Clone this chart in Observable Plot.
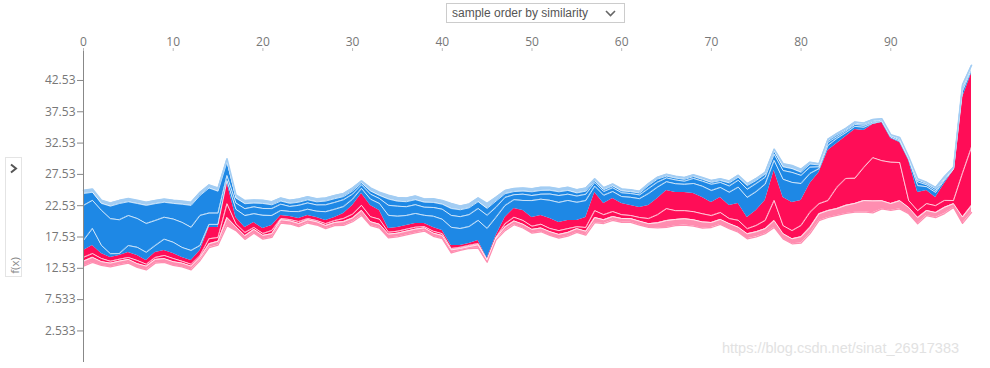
<!DOCTYPE html>
<html><head><meta charset="utf-8">
<script src="https://cdn.jsdelivr.net/npm/d3@7"></script>
<script src="https://cdn.jsdelivr.net/npm/@observablehq/plot@0.6"></script>
<style>
body{margin:0;background:#fff;}
#wrap{position:relative;width:990px;height:368px;overflow:hidden;}
#sel{position:absolute;left:446px;top:3px;width:179px;height:20px;border:1px solid #ccc;box-sizing:border-box;font:12px "Liberation Sans",Arial,sans-serif;color:#555;padding:2px 0 0 5px;background:#fff;}
#sel svg{position:absolute;right:8px;top:6px;}
#fxbox{position:absolute;left:5px;top:157px;width:17px;height:120px;border:1px solid #e4e4e4;box-sizing:border-box;background:#fff;}
#fxbox .chev{position:absolute;left:3px;top:5px;}
#fxbox .lab{position:absolute;left:-9px;top:100px;width:34px;text-align:center;transform:rotate(-90deg);font:11.5px "Open Sans",sans-serif;color:#888;}
#wm{position:absolute;left:722px;top:340px;font:14.5px "Liberation Sans",Arial,sans-serif;color:#e2e2e2;white-space:nowrap;}
</style></head>
<body><div id="wrap">
<div id="chart"></div>
<div id="sel">sample order by similarity<svg width="11" height="7" viewBox="0 0 11 7"><polyline points="1,1 5.5,5.5 10,1" fill="none" stroke="#666" stroke-width="1.6"/></svg></div>
<div id="fxbox"><svg class="chev" width="10" height="11" viewBox="0 0 10 11"><polyline points="2,1.5 7,5.5 2,9.5" fill="none" stroke="#555" stroke-width="2"/></svg><div class="lab">f(x)</div></div>
<div id="wm">https://blog.csdn.net/sinat_26917383</div>
</div>
<script>
const sampleIndex = Array.from({length: 100}, (_, i) => i);
const xTicks = [0, 10, 20, 30, 40, 50, 60, 70, 80, 90];
const yTicks = [2.533, 7.533, 12.533, 17.533, 22.533, 27.533, 32.533, 37.533, 42.533];
const yTickLabels = ["2.533", "7.533", "12.53", "17.53", "22.53", "27.53", "32.53", "37.53", "42.53"];

// model output f(x) for each sample (boundary between red and blue)
const fx = [15.38,16.18,14.90,14.26,14.58,15.06,14.58,13.78,15.06,15.38,
14.90,14.26,13.78,15.38,19.05,19.05,26.24,20.65,19.05,19.85,
18.89,19.37,20.97,20.81,20.49,20.97,20.65,20.17,20.65,21.29,
22.57,24.48,22.57,21.77,18.89,19.05,19.37,19.69,19.69,19.05,
18.57,16.18,16.18,16.50,16.98,14.10,17.78,20.65,22.09,21.77,
20.65,20.97,20.49,19.85,20.17,20.17,20.65,24.64,22.89,23.69,
22.89,22.57,22.25,22.57,23.69,24.96,24.64,24.64,24.48,23.84,
23.05,23.84,22.57,22.89,20.65,21.77,23.37,28.16,23.84,23.05,
23.37,26.08,27.84,31.35,32.47,33.59,34.70,34.55,35.50,35.82,
33.27,32.63,29.75,24.64,24.96,23.84,26.08,28.16,39.82,43.65];

// positive (red) feature effects, stacked downward from f(x)
const red1 = [1.1,1.3,0.8,0.6,0.6,0.8,0.8,0.6,0.8,0.8,
0.8,0.6,0.6,0.8,1.8,1.6,3.4,1.0,0.8,0.8,
0.8,0.8,0.5,0.5,0.5,0.5,0.5,0.5,0.5,0.8,
1.4,1.9,1.8,1.4,0.6,0.6,0.6,0.6,0.5,0.6,
0.5,0.5,0.3,0.3,0.5,0.2,0.3,1.0,1.4,1.6,
1.4,1.4,1.6,1.3,1.3,1.0,1.6,2.9,1.8,2.1,
1.8,1.6,1.6,2.1,2.6,2.9,2.9,2.9,2.9,2.6,
2.1,2.4,2.1,2.7,1.8,2.4,3.2,4.8,4.5,4.5,
4.0,4.6,5.0,8.0,7.0,6.7,7.8,5.9,5.3,6.1,
3.8,3.2,6.4,2.9,2.1,1.3,2.7,4.8,12.1,11.8];
const red2 = [0.6,0.6,0.5,0.3,0.3,0.3,0.5,0.3,0.3,0.5,
0.5,0.3,0.3,0.3,0.8,0.6,2.2,0.5,0.5,0.3,
0.3,0.5,0.2,0.2,0.3,0.2,0.2,0.3,0.3,0.5,
0.6,0.8,0.8,0.8,0.3,0.3,0.3,0.3,0.2,0.3,
0.3,0.2,0.2,0.2,0.2,0.1,0.1,0.5,0.6,0.6,
0.5,0.6,0.5,0.6,0.6,0.3,0.6,1.1,0.8,0.8,
0.6,0.5,0.6,0.8,1.3,1.9,1.4,1.3,1.3,1.3,
1.1,1.1,0.8,1.1,0.8,1.0,1.3,3.2,1.3,1.3,
1.8,2.4,1.6,1.6,3.4,4.3,4.0,5.3,6.9,6.4,
6.6,6.1,1.1,1.1,1.1,1.1,1.1,0.5,7.0,9.3];
const redSmall = [0.8,0.8,0.6,0.6,0.6,0.6,0.6,0.6,0.6,0.6,
0.6,0.6,0.6,0.5,0.6,0.6,1.3,0.6,0.6,0.6,
0.6,0.6,0.5,0.5,0.5,0.5,0.5,0.5,0.5,0.6,
0.6,0.8,0.6,0.6,0.6,0.6,0.6,0.6,0.5,0.5,
0.5,0.5,0.3,0.3,0.5,0.3,0.3,0.6,0.6,0.6,
0.6,0.6,0.6,0.6,0.6,0.6,0.6,0.8,0.6,0.6,
0.6,0.6,0.6,0.6,0.8,1.1,1.0,1.0,1.0,1.0,
0.8,0.8,0.8,0.8,0.8,0.8,0.8,1.1,0.8,0.8,
1.0,1.0,1.1,1.1,1.1,1.3,1.4,1.8,1.9,1.3,
1.1,1.3,1.0,1.0,0.8,0.8,1.0,0.6,1.0,1.1];

// negative (blue) feature effects, stacked upward from f(x)
const blue1 = [1.6,2.7,1.3,0.6,0.3,1.1,1.3,1.3,1.1,1.8,
1.8,1.6,1.6,0.8,0.5,0.5,0.3,1.3,1.9,1.4,
2.1,1.6,0.8,0.8,1.1,1.0,1.0,1.4,1.3,1.1,
1.0,0.8,1.0,1.1,2.1,1.8,1.6,1.6,1.3,1.8,
1.8,2.9,2.7,2.7,3.2,4.8,2.9,1.9,1.4,1.6,
2.7,2.6,2.9,3.2,3.2,2.9,2.7,1.0,1.3,1.1,
1.1,1.3,1.4,1.9,1.8,1.4,1.4,1.3,1.6,1.8,
1.9,1.6,2.1,2.6,3.2,3.0,2.6,1.6,2.9,3.2,
2.7,1.6,0.6,0.8,0.8,0.6,0.5,0.5,0.2,0.2,
0.2,0.2,0.2,1.1,0.6,0.8,0.5,0.2,1.0,0.6];
const blue2 = [5.6,4.5,5.6,5.6,5.4,4.8,4.6,4.6,4.0,3.5,
3.7,4.0,3.7,4.8,1.8,1.8,0.8,1.0,1.1,1.1,
1.1,1.1,1.0,0.8,1.0,1.0,1.0,1.1,1.1,1.1,
0.8,0.6,0.8,0.8,1.6,1.6,1.4,1.4,1.3,1.4,
1.6,1.9,1.9,1.9,1.9,2.1,1.6,1.3,0.8,1.0,
0.8,0.8,1.0,1.1,1.0,1.0,1.0,0.6,0.6,0.6,
0.6,0.6,0.6,0.8,0.8,0.6,0.6,0.5,0.8,0.8,
1.0,0.8,1.0,1.1,1.3,1.3,1.1,1.0,1.4,1.6,
1.3,1.0,0.3,0.5,0.3,0.3,0.3,0.3,0.2,0.2,
0.2,0.2,0.2,0.6,0.3,0.3,0.2,0.1,0.5,0.3];
const blue3 = [1.9,1.3,1.1,2.0,2.6,2.2,2.4,2.9,2.7,2.4,
2.5,2.9,3.5,3.2,4.0,3.5,2.2,0.8,0.8,0.6,
0.8,0.6,0.5,0.5,0.5,0.5,0.5,0.6,0.6,0.5,
0.5,0.3,0.5,0.5,1.0,0.8,0.8,0.8,0.8,0.8,
0.8,1.1,1.1,1.1,1.1,1.1,1.0,0.6,0.5,0.5,
0.6,0.6,0.6,0.6,0.6,0.5,0.5,0.3,0.3,0.3,
0.3,0.3,0.3,0.5,0.5,0.3,0.3,0.3,0.3,0.3,
0.3,0.3,0.5,0.5,0.6,0.5,0.5,0.5,0.6,0.6,
0.5,0.5,0.3,0.3,0.3,0.2,0.2,0.2,0.2,0.1,
0.1,0.2,0.1,0.3,0.2,0.3,0.2,0.1,0.3,0.2];
const blueSmall = [0.5,0.5,0.5,0.5,0.5,0.5,0.5,0.5,0.5,0.5,
0.5,0.5,0.5,0.5,0.5,0.5,0.5,0.5,0.5,0.5,
0.5,0.5,0.5,0.5,0.5,0.5,0.5,0.5,0.5,0.5,
0.5,0.3,0.5,0.5,0.6,0.6,0.6,0.6,0.5,0.6,
0.6,0.8,0.6,0.6,0.6,0.8,0.6,0.5,0.5,0.5,
0.5,0.5,0.5,0.5,0.5,0.5,0.5,0.3,0.3,0.3,
0.3,0.3,0.3,0.3,0.3,0.3,0.3,0.3,0.3,0.3,
0.3,0.3,0.3,0.3,0.3,0.3,0.3,0.3,0.5,0.5,
0.5,0.3,0.2,0.2,0.2,0.2,0.2,0.2,0.2,0.1,
0.1,0.2,0.1,0.2,0.2,0.2,0.2,0.1,0.2,0.2];

const rows = sampleIndex.map(i => {
  const r1 = fx[i] - red1[i], r2 = r1 - red2[i], lo = r2 - redSmall[i];
  const b1 = fx[i] + blue1[i], b2 = b1 + blue2[i], b3 = b2 + blue3[i], hi = b3 + blueSmall[i];
  return {i, fx: fx[i], r1, r2, lo, b1, b2, b3, hi};
});

const RED = "#ff0d57", BLUE = "#1e88e5", PINK = "#ff8db0", LBLUE = "#a3cdf3";
const white = y => Plot.lineY(rows, {x: "i", y, stroke: "#fff", strokeWidth: 0.9, strokeOpacity: 0.85});

const chart = Plot.plot({
  width: 990, height: 368,
  marginLeft: 83, marginRight: 19, marginTop: 50, marginBottom: 6,
  style: {fontFamily: "'Open Sans', sans-serif", fontSize: "12px", color: "#777", background: "transparent"},
  x: {domain: [0, 99]},
  y: {domain: [-2.51, 47.32]},
  marks: [
    Plot.areaY(rows, {x: "i", y1: "r1", y2: "fx", fill: RED}),
    Plot.areaY(rows, {x: "i", y1: "r2", y2: "r1", fill: RED}),
    Plot.areaY(rows, {x: "i", y1: "lo", y2: "r2", fill: PINK}),
    Plot.areaY(rows, {x: "i", y1: "fx", y2: "b1", fill: BLUE}),
    Plot.areaY(rows, {x: "i", y1: "b1", y2: "b2", fill: BLUE}),
    Plot.areaY(rows, {x: "i", y1: "b2", y2: "b3", fill: BLUE}),
    Plot.areaY(rows, {x: "i", y1: "b3", y2: "hi", fill: LBLUE}),
    white("r1"), white("r2"), white("b1"), white("b2"), white("b3"),
    Plot.lineY(rows, {x: "i", y: "lo", stroke: PINK, strokeWidth: 1.3}),
    Plot.lineY(rows, {x: "i", y: "hi", stroke: LBLUE, strokeWidth: 1.6}),
    Plot.ruleX([0], {stroke: "#888", strokeWidth: 1}),
    Plot.axisX({anchor: "top", ticks: xTicks, tickSize: 3, tickPadding: 2, label: null, stroke: "#bbb", fill: "#777"}),
    Plot.axisY({ticks: yTicks, tickFormat: d => yTickLabels[yTicks.indexOf(d)], tickSize: 6, tickPadding: 2, label: null, stroke: "#888", fill: "#777"})
  ]
});
document.getElementById("chart").appendChild(chart);
</script>
</body></html>
